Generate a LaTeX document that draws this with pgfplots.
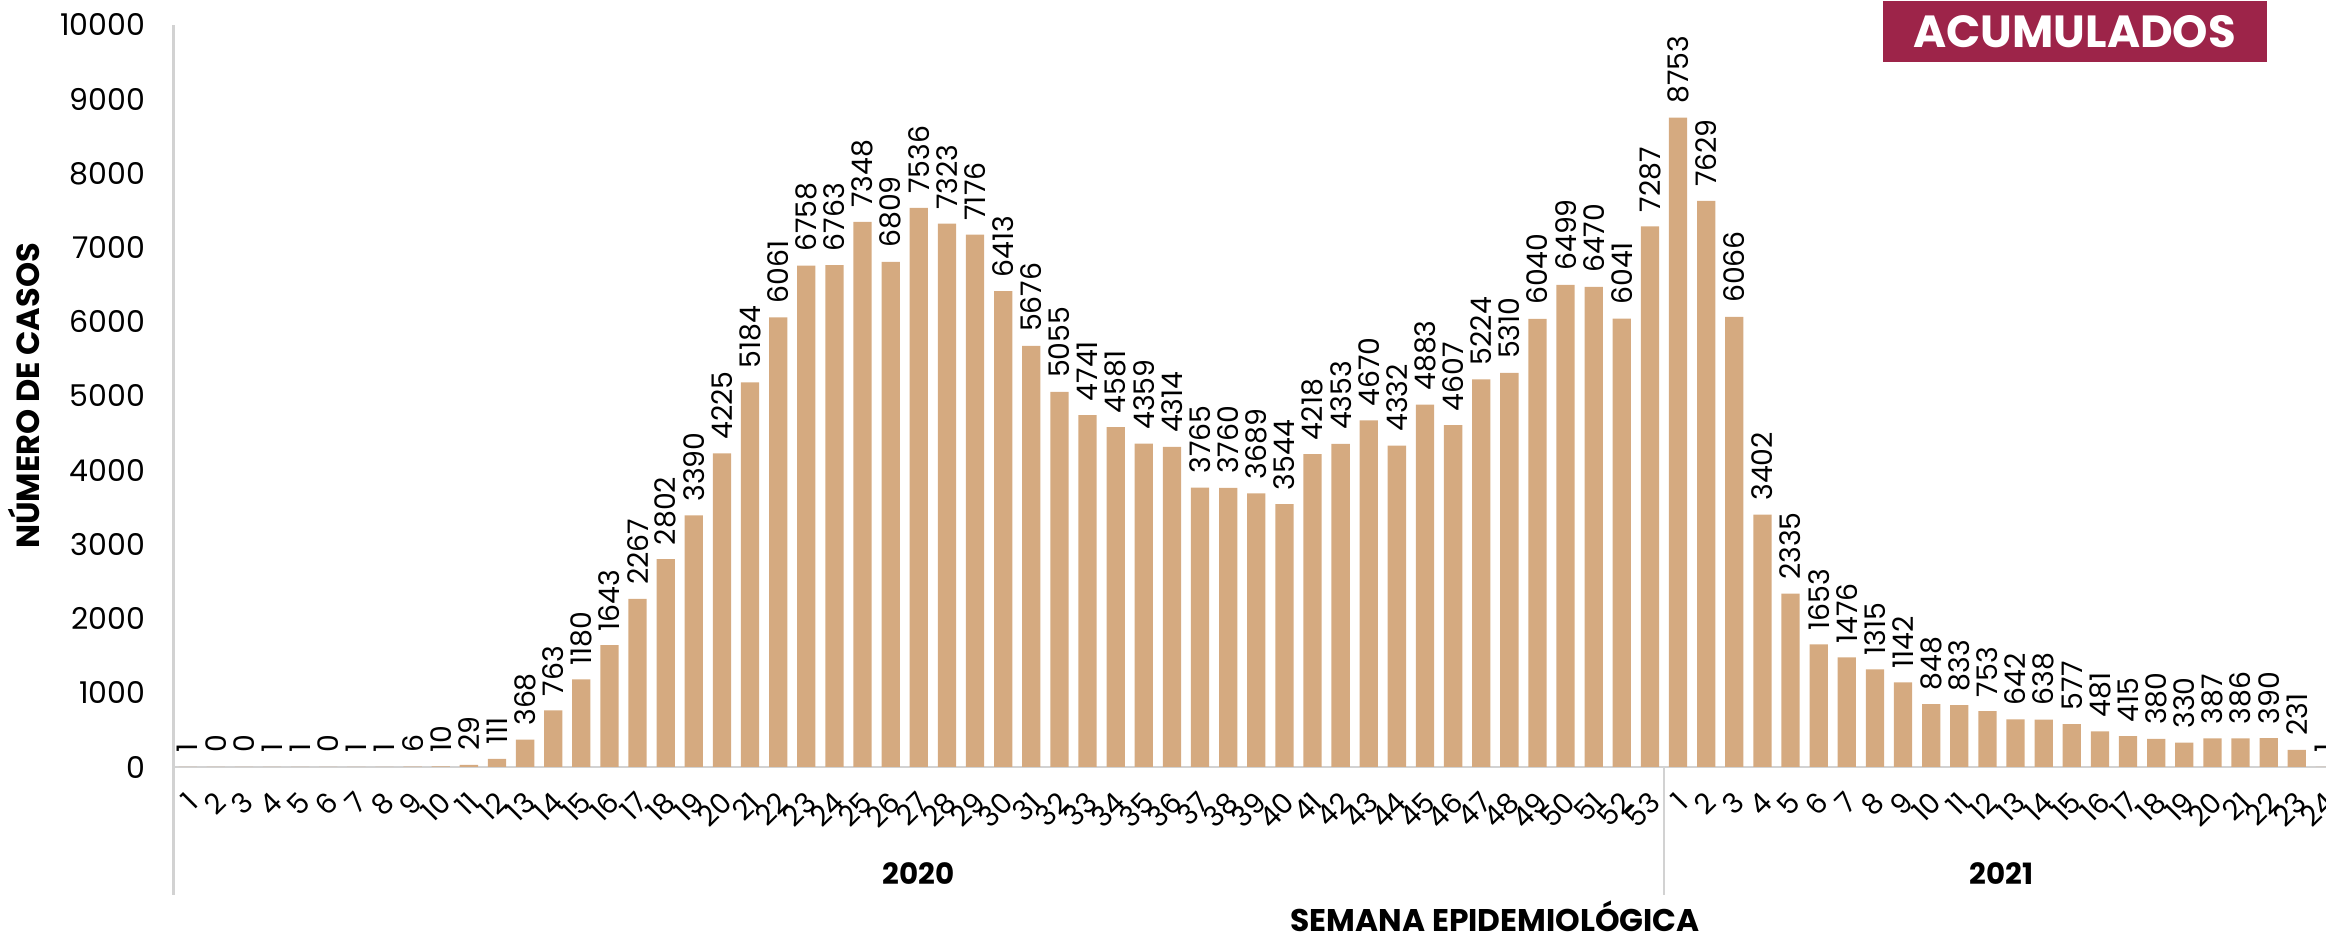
\documentclass[border=0pt]{standalone}
\usepackage{pgfplots}
\pgfplotsset{compat=1.18}
\usepackage{pgfplotstable}
\usepackage{fontspec}
\setmainfont{Poppins}
\definecolor{barc}{RGB}{213,170,128}
\definecolor{acum}{HTML}{9D2449}
\definecolor{axc}{RGB}{210,210,210}
\pgfplotstableread{
x y
1 1
2 0
3 0
4 1
5 1
6 0
7 1
8 1
9 6
10 10
11 29
12 111
13 368
14 763
15 1180
16 1643
17 2267
18 2802
19 3390
20 4225
21 5184
22 6061
23 6758
24 6763
25 7348
26 6809
27 7536
28 7323
29 7176
30 6413
31 5676
32 5055
33 4741
34 4581
35 4359
36 4314
37 3765
38 3760
39 3689
40 3544
41 4218
42 4353
43 4670
44 4332
45 4883
46 4607
47 5224
48 5310
49 6040
50 6499
51 6470
52 6041
53 7287
54 8753
55 7629
56 6066
57 3402
58 2335
59 1653
60 1476
61 1315
62 1142
63 848
64 833
65 753
66 642
67 638
68 577
69 481
70 415
71 380
72 330
73 387
74 386
75 390
76 231
77 1
}\datatable
\begin{document}
\begin{tikzpicture}
\useasboundingbox (0,0) rectangle (697.8pt,280.2pt);
\clip (0,0) rectangle (697.8pt,280.2pt);
\begin{axis}[
  at={(52.08pt,50.1pt)}, anchor=south west,
  width=649.6pt, height=222.6pt, scale only axis,
  xmin=0.5, xmax=77.5, ymin=0, ymax=10000,
  clip=false,
  axis lines*=left,
  axis line style={draw=axc, line width=0.8pt},
  major tick length=0pt,
  scaled y ticks=false,
  ytick={0,1000,...,10000},
  xtick={1,...,77},
  xticklabels={1,2,3,4,5,6,7,8,9,10,11,12,13,14,15,16,17,18,19,20,21,22,23,24,25,26,27,28,29,30,31,32,33,34,35,36,37,38,39,40,41,42,43,44,45,46,47,48,49,50,51,52,53,1,2,3,4,5,6,7,8,9,10,11,12,13,14,15,16,17,18,19,20,21,22,23,24},
  /pgf/number format/1000 sep={},
  /pgf/number format/assume math mode=true,
  yticklabel style={font=\fontsize{9}{10}\selectfont, xshift=-5pt},
  xticklabel style={font=\fontsize{8.5}{10}\selectfont, yshift=-9pt, xshift=1.5pt, rotate=45, anchor=east, inner sep=0pt},
  ybar, bar width=0.65,
  nodes near coords,
  every node near coord/.append style={font=\fontsize{8.5}{10}\selectfont, rotate=90, anchor=west, inner sep=4pt, text=black},
]
\addplot[fill=barc, draw=none] table[x=x,y=y] {\datatable};
\draw[axc, line width=0.8pt] (axis cs:0.5,0) -- ++(0pt,-38.4pt);
\draw[axc, line width=0.8pt] (axis cs:53.5,0) -- ++(0pt,-38.4pt);
\node[font=\bfseries\fontsize{8.8}{10}\selectfont, anchor=base] at ([yshift=-35.4pt]axis cs:27,0) {2020};
\node[font=\bfseries\fontsize{8.8}{10}\selectfont, anchor=base] at ([yshift=-35.4pt]axis cs:65.5,0) {2021};
\node[font=\bfseries\fontsize{9.4}{11}\selectfont, anchor=base, inner sep=0pt] at ([yshift=-49.4pt]axis cs:47.5,0) {SEMANA EPIDEMIOLÓGICA};
\node[font=\bfseries\fontsize{9.6}{11}\selectfont, rotate=90] at ([xshift=-45pt]rel axis cs:0,0.5) {NÚMERO DE CASOS};
\end{axis}
\node[fill=acum, text=white, font=\bfseries\fontsize{13.5}{15}\selectfont, minimum width=115.2pt, minimum height=18.3pt, inner sep=0pt, anchor=north west] at (564.6pt,280.2pt) {ACUMULADOS};
\end{tikzpicture}
\end{document}
